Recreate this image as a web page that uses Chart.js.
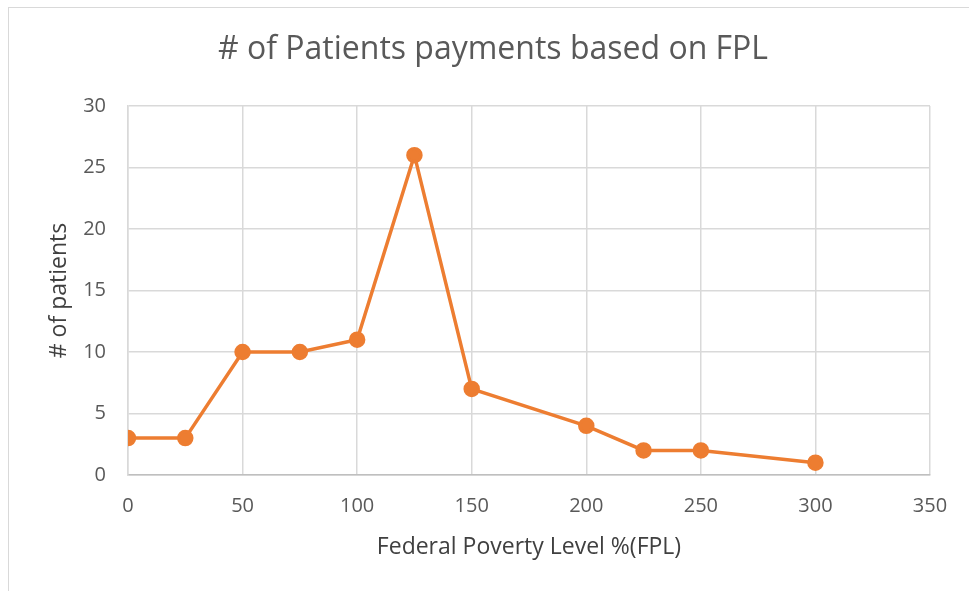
<!DOCTYPE html>
<html lang="en">
<head>
    <meta charset="UTF-8">
    <title># of Patients payments based on FPL</title>
    <script src="https://cdn.jsdelivr.net/npm/chart.js"></script>
    <style>
        html, body { margin: 0; padding: 0; background: #fff; }
        .frame {
            position: absolute;
            left: 8px; top: 7px;
            width: 980px; height: 600px;
            border: 1px solid #d9d9d9;
            box-sizing: border-box;
        }
        .chart-container {
            position: absolute;
            left: 0; top: 0;
            width: 969px; height: 591px;
        }
    </style>
</head>
<body>
    <div class="frame"></div>
    <div class="chart-container">
        <canvas id="myChart"></canvas>
    </div>

    <script>
        const fplLevels = [0, 25, 50, 75, 100, 125, 150, 200, 225, 250, 300];
        const patientCounts = [3, 3, 10, 10, 11, 26, 7, 4, 2, 2, 1];
        const xTicks = [0, 50, 100, 150, 200, 250, 300, 350];
        const yTicks = [0, 5, 10, 15, 20, 25, 30];

        const points = fplLevels.map((x, i) => ({ x: x, y: patientCounts[i] }));
        const fontFamily = '"Open Sans", "DejaVu Sans", sans-serif';

        const ctx = document.getElementById('myChart').getContext('2d');
        new Chart(ctx, {
            type: 'scatter',
            data: {
                datasets: [{
                    label: '# of patients',
                    data: points,
                    showLine: true,
                    borderColor: '#ED7D31',
                    backgroundColor: '#ED7D31',
                    borderWidth: 3.5,
                    pointRadius: 6.5,
                    pointHoverRadius: 6.5,
                    tension: 0
                }]
            },
            options: {
                responsive: true,
                maintainAspectRatio: false,
                animation: false,
                layout: { padding: { left: 17, right: 0, top: 0, bottom: 0 } },
                plugins: {
                    legend: { display: false },
                    tooltip: { enabled: false },
                    title: {
                        display: true,
                        text: '# of Patients payments based on FPL',
                        color: '#595959',
                        font: { family: fontFamily, size: 32, weight: 'normal', lineHeight: 1.2 },
                        padding: { top: 31, bottom: 36.6 }
                    }
                },
                scales: {
                    x: {
                        type: 'linear',
                        min: 0,
                        max: 350,
                        afterBuildTicks: scale => { scale.ticks = xTicks.map(v => ({ value: v })); },
                        afterFit: scale => { scale.height = 116; },
                        grid: { color: '#d9d9d9', lineWidth: 1.5, drawTicks: false },
                        border: { color: '#bfbfbf', width: 1.5 },
                        ticks: {
                            color: '#595959',
                            padding: 19,
                            maxRotation: 0,
                            font: { family: fontFamily, size: 20 }
                        },
                        title: {
                            display: true,
                            text: 'Federal Poverty Level %(FPL)',
                            color: '#404040',
                            font: { family: fontFamily, size: 23 },
                            padding: { top: 0, bottom: 30 }
                        }
                    },
                    y: {
                        min: 0,
                        max: 30,
                        afterBuildTicks: scale => { scale.ticks = yTicks.map(v => ({ value: v })); },
                        afterFit: scale => { scale.width = 111; },
                        grid: { color: '#d9d9d9', lineWidth: 1.5, drawTicks: false },
                        border: { color: '#d9d9d9', width: 1.5 },
                        ticks: {
                            color: '#595959',
                            padding: 22,
                            font: { family: fontFamily, size: 20 }
                        },
                        title: {
                            display: true,
                            text: '# of patients',
                            color: '#404040',
                            font: { family: fontFamily, size: 23 },
                            padding: { top: 29, bottom: 0 }
                        }
                    },
                    spacer: {
                        type: 'linear',
                        position: 'right',
                        display: true,
                        afterFit: scale => { scale.width = 39; },
                        grid: { display: false, drawTicks: false },
                        border: { display: false },
                        ticks: { display: false }
                    }
                }
            }
        });
    </script>
</body>
</html>
